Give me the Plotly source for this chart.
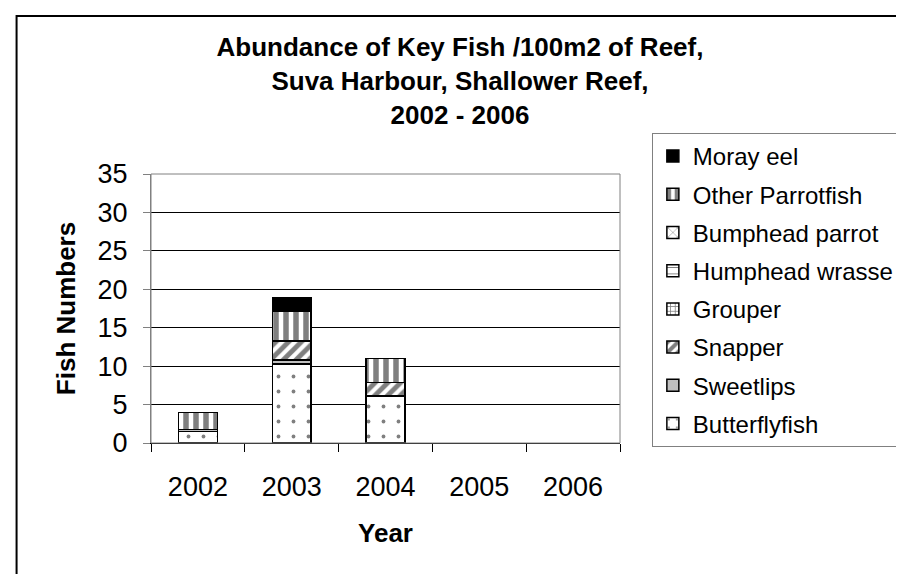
import plotly.graph_objects as go

years = ["2002", "2003", "2004", "2005", "2006"]
butterflyfish = [1.5, 10.3, 6.1, 0, 0]
sweetlips = [0.25, 0.5, 0, 0, 0]
snapper = [0, 2.5, 1.8, 0, 0]
grouper = [0, 0, 0, 0, 0]
humphead_wrasse = [0, 0, 0, 0, 0]
bumphead_parrot = [0, 0, 0, 0, 0]
other_parrotfish = [2.25, 3.9, 3.1, 0, 0]
moray_eel = [0, 1.7, 0, 0, 0]

series = [
    ("Butterflyfish", butterflyfish, dict(shape=".", fgcolor="black", bgcolor="white", size=15, solidity=0.05)),
    ("Sweetlips", sweetlips, dict(shape="", bgcolor="#c0c0c0")),
    ("Snapper", snapper, dict(shape="/", fgcolor="black", bgcolor="white", size=9, solidity=0.55)),
    ("Grouper", grouper, dict(shape="+", fgcolor="black", bgcolor="white", size=6, solidity=0.3)),
    ("Humphead wrasse", humphead_wrasse, dict(shape="-", fgcolor="black", bgcolor="white", size=8, solidity=0.15)),
    ("Bumphead parrot", bumphead_parrot, dict(shape="x", fgcolor="black", bgcolor="white", size=8, solidity=0.15)),
    ("Other Parrotfish", other_parrotfish, dict(shape="|", fgcolor="black", bgcolor="white", size=10, solidity=0.55)),
    ("Moray eel", moray_eel, dict(shape="", bgcolor="black")),
]

fig = go.Figure()
n = len(series)
for i, (name, vals, pat) in enumerate(series):
    base_color = pat.get("bgcolor", "white")
    fig.add_trace(go.Bar(
        x=years, y=[v if v else None for v in vals], name=name, legendgroup=name,
        legendrank=n - i,
        marker=dict(color=base_color, line=dict(color="black", width=1.5), pattern=pat),
    ))

FONT = "Liberation Sans, Arial, sans-serif"

L, R, T, B = 143, 614, 166, 435
def px(x):
    return (x - L) / (R - L)
def py(y):
    return (B - y) / (B - T)

fig.update_layout(
    width=904, height=574,
    margin=dict(l=L, r=904 - R, t=T, b=574 - B, pad=0),
    paper_bgcolor="white", plot_bgcolor="white",
    barmode="stack", bargap=0.586,
    font=dict(family=FONT, color="black"),
    title=dict(
        text="Abundance of Key Fish /100m2 of Reef,<br>Suva Harbour, Shallower Reef,<br>2002 - 2006",
        font=dict(size=26, family=FONT, color="black", weight="bold"),
        x=0.5, xref="container", xanchor="center",
        y=1 - 48 / 574, yref="container", yanchor="top",
    ),
    legend=dict(
        x=px(646), xanchor="left", y=py(125), yanchor="top",
        traceorder="grouped", tracegroupgap=4, maxheight=330,
        font=dict(size=24, family=FONT, color="black"),
        bordercolor="#808080", borderwidth=1, bgcolor="white",
    ),
    showlegend=True,
    xaxis=dict(
        type="category", tickson="boundaries", ticks="outside", ticklen=8,
        tickcolor="black", showline=True, linecolor="black", linewidth=1,
        tickfont=dict(size=27, family=FONT, color="black"),
        title=dict(text="Year", font=dict(size=26, family=FONT, color="black", weight="bold"), standoff=22),
        showgrid=False, ticklabelstandoff=20,
    ),
    yaxis=dict(
        range=[0, 35], dtick=5, tick0=0, ticks="outside", ticklen=7,
        tickcolor="#808080", showline=True, linecolor="#808080", linewidth=1,
        showgrid=True, gridcolor="black", gridwidth=1, zeroline=False,
        tickfont=dict(size=27, family=FONT, color="black"),
        title=dict(text="Fish Numbers", font=dict(size=26, family=FONT, color="black", weight="bold"), standoff=14),
        ticklabelstandoff=10,
    ),
    shapes=[
        dict(type="rect", xref="paper", yref="paper", x0=0, x1=1, y0=0, y1=1,
             line=dict(color="#808080", width=1), fillcolor="rgba(0,0,0,0)", layer="above"),
        dict(type="rect", xref="paper", yref="paper", x0=px(8), x1=px(930), y0=py(8), y1=py(600),
             line=dict(color="black", width=2), fillcolor="rgba(0,0,0,0)", layer="above"),
    ],
)

fig.write_html("out.html")
